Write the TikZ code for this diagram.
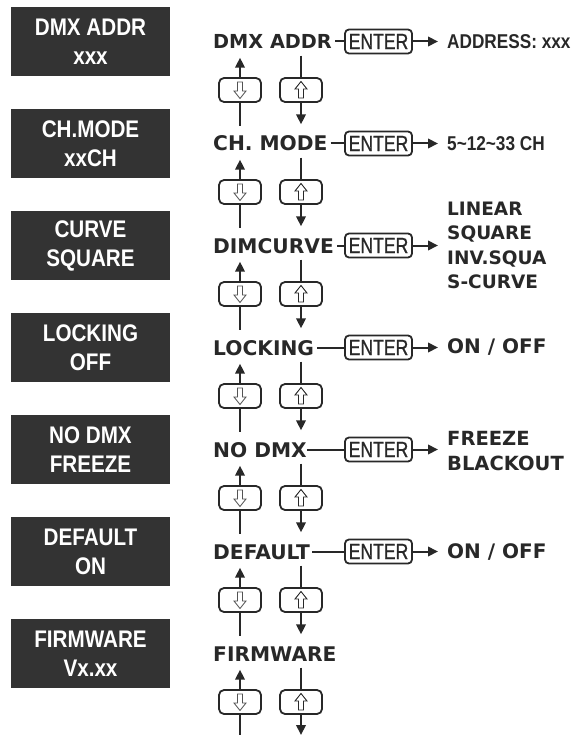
\documentclass[tikz,border=0pt]{standalone}
\usepackage{fontspec}
\setmainfont{DejaVu Sans}
\newfontfamily\lcdfont{Liberation Sans}[FakeStretch=0.86]
\newfontfamily\keyfont{Liberation Sans}[FakeStretch=0.8, FakeBold=1]
\usetikzlibrary{positioning, arrows.meta, backgrounds}
\definecolor{panel}{RGB}{51,51,51}
\definecolor{ink}{RGB}{40,40,40}

\begin{document}
\begin{tikzpicture}[
			x=1pt, y=-1pt,
			lcd/.style={fill=panel, text=white, minimum width=159pt, minimum height=69pt, inner sep=0pt,
				align=center, font=\lcdfont\bfseries\fontsize{24}{29}\selectfont},
			menu/.style={anchor=west, inner sep=0pt, text=ink, text height=15pt, text depth=0pt,
				font=\bfseries\fontsize{20.2}{24}\selectfont},
			key/.style={draw=ink, line width=1.8pt, rounded corners=4pt, minimum width=67pt, minimum height=24pt,
				inner sep=0pt, text=ink, font=\keyfont\fontsize{22}{24}\selectfont},
			result/.style={anchor=west, inner sep=0pt, align=left, text=ink, font=\bfseries\fontsize{18.5}{24.5}\selectfont},
			narrow/.style={font=\lcdfont\bfseries\fontsize{20}{24}\selectfont},
			btn/.style={draw=ink, line width=1.8pt, rounded corners=5pt, fill=white, minimum width=42pt,
				minimum height=24pt, inner sep=0pt},
			btndown/.style={btn, path picture={
					\draw[ink!80, line width=0.8pt, fill=white, sharp corners]
					([shift={(-2.5pt,8pt)}]path picture bounding box.center) -- ++(5pt,0pt) -- ++(0pt,-9pt)
					-- ++(3.5pt,0pt) -- ++(-6pt,-7.5pt) -- ++(-6pt,7.5pt) -- ++(3.5pt,0pt) -- cycle;}},
			btnup/.style={btn, path picture={
					\draw[ink, line width=0.9pt, fill=white, sharp corners]
					([shift={(-2.5pt,-8pt)}]path picture bounding box.center) -- ++(5pt,0pt) -- ++(0pt,9pt)
					-- ++(3.5pt,0pt) -- ++(-6pt,7.5pt) -- ++(-6pt,-7.5pt) -- ++(3.5pt,0pt) -- cycle;}},
			link/.style={ink, line width=2pt},
			arrow/.style={link, -{Triangle[length=10pt, width=9.5pt]}},
			uparrow/.style={arrow, shorten <=10pt, shorten >=8.5pt},
			downarrow/.style={arrow, shorten <=6.5pt, shorten >=11.5pt}
			]
			\useasboundingbox (0,0) rectangle (588,735);
			
			% LCD screens
			\node[lcd] (lcd1) at (90.5,41.5)  {DMX ADDR\\xxx};
			\node[lcd] (lcd2) at (90.5,143.5) {CH.MODE\\xxCH};
			\node[lcd] (lcd3) at (90.5,245.5) {CURVE\\SQUARE};
			\node[lcd] (lcd4) at (90.5,347.5) {LOCKING\\OFF};
			\node[lcd] (lcd5) at (90.5,449.5) {NO DMX\\FREEZE};
			\node[lcd] (lcd6) at (90.5,551.5) {DEFAULT\\ON};
			\node[lcd] (lcd7) at (90.5,653.5) {FIRMWARE\\Vx.xx};
			
			% Menu items
			\node[menu, font=\bfseries\fontsize{19.3}{24}\selectfont] (m1) at (213,41.5) {DMX ADDR};
			\node[menu] (m2) at (213,143.5) {CH. MODE};
			\node[menu] (m3) at (213,245.5) {DIMCURVE};
			\node[menu] (m4) at (213,347.5) {LOCKING};
			\node[menu] (m5) at (213,449.5) {NO DMX};
			\node[menu] (m6) at (213,551.5) {DEFAULT};
			\node[menu] (m7) at (213,653.5) {FIRMWARE};
			\coordinate (bot) at (0,735);
			
			% Enter keys and settings
			\node[key] (k1) at (378.5,41.5)  {ENTER};
			\node[key] (k2) at (378.5,143.5) {ENTER};
			\node[key] (k3) at (378.5,245.5) {ENTER};
			\node[key] (k4) at (378.5,347.5) {ENTER};
			\node[key] (k5) at (378.5,449.5) {ENTER};
			\node[key] (k6) at (378.5,551.5) {ENTER};
			
			\node[result, narrow] (r1) at (447,41.5)  {ADDRESS: xxx};
			\node[result, narrow] (r2) at (447,143.5) {5\textasciitilde12\textasciitilde33 CH};
			\node[result] (r3) at (447,245.5) {LINEAR\\SQUARE\\INV.SQUA\\S-CURVE};
			\node[result, font=\bfseries\fontsize{20}{24.5}\selectfont] (r4) at (447,347.5) {ON / OFF};
			\node[result, font=\bfseries\fontsize{19.5}{25}\selectfont] (r5) at (447,451) {FREEZE\\BLACKOUT};
			\node[result, font=\bfseries\fontsize{20}{24.5}\selectfont] (r6) at (447,551.5) {ON / OFF};
			
			\draw[link, shorten <=3pt] (m1) -- (k1);
			\draw[link, shorten <=3pt] (m2) -- (k2);
			\draw[link, shorten <=3pt] (m3) -- (k3);
			\draw[link, shorten <=3pt] (m4) -- (k4);
			\draw[link] (m5) -- (k5);
			\draw[link, shorten <=2pt] (m6) -- (k6);
			
			\draw[arrow, shorten >=9pt] (k1.east) -- (k1.east -| r1.west);
			\draw[arrow, shorten >=9pt] (k2.east) -- (k2.east -| r2.west);
			\draw[arrow, shorten >=9pt] (k3.east) -- (k3.east -| r3.west);
			\draw[arrow, shorten >=9pt] (k4.east) -- (k4.east -| r4.west);
			\draw[arrow, shorten >=9pt] (k5.east) -- (k5.east -| r5.west);
			\draw[arrow, shorten >=9pt] (k6.east) -- (k6.east -| r6.west);
			
			% Up / down buttons
			\node[btndown] (d1) at (240,90)  {};
			\node[btndown] (d2) at (240,192) {};
			\node[btndown] (d3) at (240,294) {};
			\node[btndown] (d4) at (240,396) {};
			\node[btndown] (d5) at (240,498) {};
			\node[btndown] (d6) at (240,600) {};
			\node[btndown] (d7) at (240,702) {};
			\node[btnup] (u1) at (301,90)  {};
			\node[btnup] (u2) at (301,192) {};
			\node[btnup] (u3) at (301,294) {};
			\node[btnup] (u4) at (301,396) {};
			\node[btnup] (u5) at (301,498) {};
			\node[btnup] (u6) at (301,600) {};
			\node[btnup] (u7) at (301,702) {};
			
			% Arrows between menu items, behind the buttons
			\begin{scope}[on background layer]
				\draw[uparrow] (m2.north -| d1) -- (m1.south -| d1);
				\draw[uparrow] (m3.north -| d2) -- (m2.south -| d2);
				\draw[uparrow] (m4.north -| d3) -- (m3.south -| d3);
				\draw[uparrow] (m5.north -| d4) -- (m4.south -| d4);
				\draw[uparrow] (m6.north -| d5) -- (m5.south -| d5);
				\draw[uparrow] (m7.north -| d6) -- (m6.south -| d6);
				\draw[uparrow, shorten <=0pt] (bot -| d7) -- (m7.south -| d7);
				\draw[downarrow] (m1.south -| u1) -- (m2.north -| u1);
				\draw[downarrow] (m2.south -| u2) -- (m3.north -| u2);
				\draw[downarrow] (m3.south -| u3) -- (m4.north -| u3);
				\draw[downarrow] (m4.south -| u4) -- (m5.north -| u4);
				\draw[downarrow] (m5.south -| u5) -- (m6.north -| u5);
				\draw[downarrow] (m6.south -| u6) -- (m7.north -| u6);
				\draw[downarrow, shorten >=0pt] (m7.south -| u7) -- (bot -| u7);
			\end{scope}
			
		\end{tikzpicture}
\end{document}
